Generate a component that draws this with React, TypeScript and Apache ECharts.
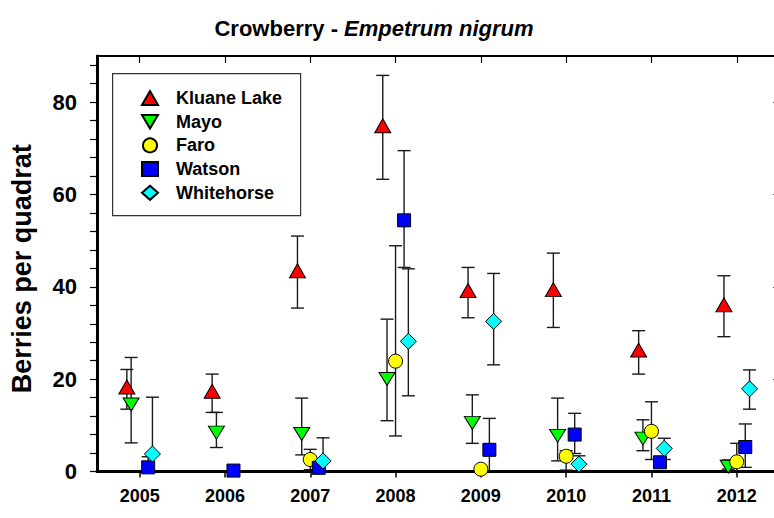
import React, { useEffect, useRef } from 'react';
import * as echarts from 'echarts';

const YEARS = [2005, 2006, 2007, 2008, 2009, 2010, 2011, 2012];
const Y_LABELS = [0, 20, 40, 60, 80];
const Y_MINOR_TICKS = [0, 4, 8, 12, 16, 20, 24, 28, 32, 36, 40, 44, 48, 52, 56, 60, 64, 68, 72, 76, 80, 84, 88];
const Y_RIGHT_TICKS = [20, 40, 60, 80];

const SITES = ['Kluane Lake', 'Mayo', 'Faro', 'Watson', 'Whitehorse'];
// horizontal jitter (years) of each site around the year
const X_SHIFT = [-0.15, -0.1, 0, 0.1, 0.15];

const KLUANE_MEAN = [17.8, 16.9, 43.0, 74.4, 38.7, 38.9, 25.8, 35.6];
const KLUANE_LOW = [13.5, 12.8, 35.4, 63.3, 33.3, 31.2, 21.1, 29.2];
const KLUANE_HIGH = [22.1, 21.1, 51.0, 85.8, 44.2, 47.3, 30.5, 42.4];

const MAYO_MEAN = [15.0, 8.9, 8.6, 20.5, 11.0, 8.2, 7.6, 1.5];
const MAYO_LOW = [6.2, 5.2, 3.6, 11.0, 6.1, 2.3, 4.5, 0.5];
const MAYO_HIGH = [24.7, 12.8, 15.9, 33.0, 16.6, 15.9, 11.2, 2.5];

const FARO_MEAN = [null, null, 2.6, 23.9, 0.5, 3.3, 8.7, 2.1];
const FARO_LOW = [null, null, 0.4, 7.7, 0, 0.3, 2.6, 0];
const FARO_HIGH = [null, null, 4.8, 48.9, 1.0, 4.5, 15.1, 6.1];

const WATSON_MEAN = [0.9, 0.2, 0.8, 54.4, 4.7, 8.0, 2.0, 5.3];
const WATSON_LOW = [0, 0, 0, 44.2, 0, 3.9, 1.0, 0.9];
const WATSON_HIGH = [3.2, 0.6, 1.6, 69.5, 11.5, 12.6, 3.0, 10.3];

const WHITEHORSE_MEAN = [3.8, null, 2.3, 28.2, 32.5, 1.6, 5.0, 17.9];
const WHITEHORSE_LOW = [0, null, 0, 16.4, 23.1, 0, 2.6, 13.5];
const WHITEHORSE_HIGH = [16.1, null, 7.3, 43.9, 42.9, 3.4, 7.2, 22.0];

const MEANS = [KLUANE_MEAN, MAYO_MEAN, FARO_MEAN, WATSON_MEAN, WHITEHORSE_MEAN];
const LOWS = [KLUANE_LOW, MAYO_LOW, FARO_LOW, WATSON_LOW, WHITEHORSE_LOW];
const HIGHS = [KLUANE_HIGH, MAYO_HIGH, FARO_HIGH, WATSON_HIGH, WHITEHORSE_HIGH];

const FONT = "'Liberation Sans', Arial, Helvetica, sans-serif";

const STYLES = [
  { symbol: 'triangle', size: [16, 14], offset: [0, -2.3], color: '#ff0000' },
  { symbol: 'path://M0,0L20,0L10,17Z', size: [16, 13], offset: [0, 2.2], color: '#00ff00' },
  { symbol: 'circle', size: 14, offset: [0, 0], color: '#ffff00' },
  { symbol: 'rect', size: 13, offset: [0, 0], color: '#0000ff' },
  { symbol: 'diamond', size: 16, offset: [0, 0], color: '#00ffff' },
];

export default function App() {
  const ref = useRef<HTMLDivElement>(null);

  useEffect(() => {
    if (!ref.current) return;
    const chart = echarts.init(ref.current, null, { renderer: 'svg' });

    const errorSeries = SITES.map((name, s) => ({
      type: 'custom',
      name: name + ' error',
      coordinateSystem: 'cartesian2d',
      z: 1,
      silent: true,
      encode: { x: 0, y: [1, 2] },
      data: YEARS.map((yr, i) =>
        MEANS[s][i] == null ? null : [yr + X_SHIFT[s], LOWS[s][i], HIGHS[s][i]]
      ).filter((d) => d !== null),
      renderItem: (params: any, api: any) => {
        const x = api.value(0);
        const lo = api.value(1);
        const hi = api.value(2);
        const top = api.coord([x, hi]);
        const bot = api.coord([x, Math.max(lo, 0)]);
        const half = 6.5;
        const st = { stroke: '#1a1a1a', lineWidth: 1.4 };
        const children: any[] = [
          { type: 'line', shape: { x1: top[0], y1: top[1], x2: bot[0], y2: bot[1] }, style: st },
          { type: 'line', shape: { x1: top[0] - half, y1: top[1], x2: top[0] + half, y2: top[1] }, style: st },
        ];
        if (lo > 0) {
          children.push({ type: 'line', shape: { x1: bot[0] - half, y1: bot[1], x2: bot[0] + half, y2: bot[1] }, style: st });
        }
        return { type: 'group', children };
      },
    }));

    const pointSeries = SITES.map((name, s) => ({
      type: 'scatter',
      name,
      z: 3,
      symbol: STYLES[s].symbol,
      symbolSize: STYLES[s].size,
      symbolOffset: STYLES[s].offset,
      itemStyle: { color: STYLES[s].color, borderColor: '#000', borderWidth: 1, opacity: 1 },
      emphasis: { disabled: true },
      data: YEARS.map((yr, i) => (MEANS[s][i] == null ? null : [yr + X_SHIFT[s], MEANS[s][i]])).filter(
        (d) => d !== null
      ),
    }));

    chart.setOption({
      animation: false,
      backgroundColor: '#ffffff',
      grid: { left: 96.6, top: 56, width: 682.8, height: 415.5, containLabel: false },
      xAxis: [
        {
          type: 'value',
          position: 'bottom',
          min: 2004.5,
          max: 2012.5,
          axisLine: { onZero: false, lineStyle: { color: '#000', width: 3 } },
          axisTick: { customValues: YEARS, length: 6, lineStyle: { color: '#000', width: 1.5 } },
          axisLabel: {
            customValues: YEARS,
            formatter: (v: number) => String(v),
            margin: 15,
            color: '#000',
            fontFamily: FONT,
            fontWeight: 'bold',
            fontSize: 18,
          },
          splitLine: { show: false },
        },
        {
          type: 'value',
          position: 'top',
          min: 2004.5,
          max: 2012.5,
          axisLine: { onZero: false, lineStyle: { color: '#000', width: 2 } },
          axisTick: { customValues: YEARS, inside: true, length: 7, lineStyle: { color: '#000', width: 1.2 } },
          axisLabel: { show: false },
          splitLine: { show: false },
        },
      ],
      yAxis: [
        {
          type: 'value',
          position: 'left',
          min: 0,
          max: 90,
          name: 'Berries per quadrat',
          nameLocation: 'middle',
          nameGap: 62,
          nameTextStyle: {
            color: '#000',
            fontFamily: FONT,
            fontWeight: 'bold',
            fontSize: 27,
            padding: [0, 10, 0, 0],
          },
          axisLine: { onZero: false, lineStyle: { color: '#000', width: 3 } },
          axisTick: { customValues: Y_MINOR_TICKS, length: 7, lineStyle: { color: '#000', width: 1.2 } },
          axisLabel: {
            customValues: Y_LABELS,
            margin: 20,
            color: '#000',
            fontFamily: FONT,
            fontWeight: 'bold',
            fontSize: 22,
          },
          splitLine: { show: false },
        },
        {
          type: 'value',
          position: 'right',
          min: 0,
          max: 90,
          axisLine: { onZero: false, lineStyle: { color: '#000', width: 2 } },
          axisTick: { customValues: Y_RIGHT_TICKS, inside: true, length: 6, lineStyle: { color: '#000', width: 1.2 } },
          axisLabel: { show: false },
          splitLine: { show: false },
        },
      ],
      legend: {
        orient: 'vertical',
        left: 136,
        top: 84,
        itemWidth: 16,
        itemHeight: 14,
        itemGap: 5.7,
        data: SITES,
        textStyle: { color: '#000', fontFamily: FONT, fontWeight: 'bold', fontSize: 18, padding: [0, 0, 0, 13] },
      },
      graphic: [
        {
          type: 'rect',
          left: 112,
          top: 73,
          z: 0,
          shape: { width: 188, height: 142 },
          style: { fill: '#fff', stroke: '#333', lineWidth: 1.2 },
        },
        {
          type: 'text',
          x: 374,
          y: 28,
          z: 10,
          style: {
            text: 'Crowberry - {i|Empetrum nigrum}',
            align: 'center',
            verticalAlign: 'middle',
            fill: '#000',
            font: `bold 22px ${FONT}`,
            rich: { i: { fontStyle: 'italic', fontWeight: 'bold', fontSize: 22, fontFamily: FONT, fill: '#000' } },
          },
        },
      ],
      series: [...errorSeries, ...pointSeries],
    });

    return () => chart.dispose();
  }, []);

  return (
    <div style={{ position: 'absolute', left: 0, top: 0, width: 774, height: 518, overflow: 'hidden', background: '#fff' }}>
      <div ref={ref} style={{ width: 790, height: 518 }} />
    </div>
  );
}
